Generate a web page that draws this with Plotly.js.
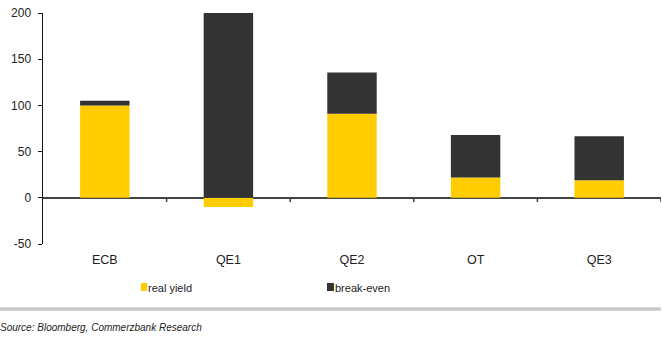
<!DOCTYPE html>
<html><head><meta charset="utf-8">
<script src="https://cdn.plot.ly/plotly-3.0.1.min.js"></script>
<style>html,body{margin:0;padding:0;background:#fff;}#chart{width:662px;height:339px;}</style>
</head><body><div id="chart"></div>
<script>
const categories = ['ECB', 'QE1', 'QE2', 'OT', 'QE3'];
const realYield = [100, -10, 91, 22, 19];
const breakEven = [5, 200, 44.5, 46, 47.5];
const seriesNames = ['real yield', 'break-even'];
const yTicks = [-50, 0, 50, 100, 150, 200];
const yTickText = ['-50', '0', '50', '100', '150', '200'];
const boundaryTicks = [0.5, 1.5, 2.5, 3.5, 4.5];

const font = {family: 'Liberation Sans, Arial, sans-serif', size: 12, color: '#222'};

const traces = [
  {type: 'bar', x: categories, y: realYield, name: seriesNames[0],
   marker: {color: '#FFCC00', line: {width: 0}}, width: 0.4},
  {type: 'bar', x: categories, y: breakEven, name: seriesNames[1],
   marker: {color: '#333333', line: {width: 0}}, width: 0.4}
];

const tickShapes = boundaryTicks.map(v => ({
  type: 'line', xref: 'x', yref: 'y', x0: v, x1: v, y0: 0, y1: -4.5,
  line: {color: '#444', width: 1.5}
}));

const layout = {
  width: 662, height: 339,
  margin: {l: 43, r: 1, t: 13, b: 95},
  barmode: 'relative',
  showlegend: false,
  paper_bgcolor: '#fff', plot_bgcolor: '#fff',
  font: font,
  xaxis: {type: 'category', showline: false, ticks: '', showgrid: false, zeroline: false,
          range: [-0.5, 4.5], tickfont: {size: 12.5, color: '#222'}, ticklabelstandoff: 6},
  yaxis: {range: [-50, 200], tickvals: yTicks, ticktext: yTickText, showgrid: false,
          zeroline: true, zerolinecolor: '#444', zerolinewidth: 1.5,
          showline: true, linecolor: '#111', linewidth: 1.5, ticks: 'outside', ticklen: 4, tickcolor: '#111',
          tickfont: {size: 12, color: '#222'}, ticklabelstandoff: 4},
  shapes: tickShapes.concat([
    {type: 'line', xref: 'paper', yref: 'paper', x0: -43/618, x1: 1, y0: -65/231, y1: -65/231,
     line: {color: '#c8c8c8', width: 3.5}},
    {type: 'rect', xref: 'paper', yref: 'paper', x0: (141-43)/618, x1: (147-43)/618,
     y0: (244-291)/231, y1: (244-283)/231, fillcolor: '#FFCC00', line: {width: 0}},
    {type: 'rect', xref: 'paper', yref: 'paper', x0: (327-43)/618, x1: (334-43)/618,
     y0: (244-291)/231, y1: (244-283)/231, fillcolor: '#333333', line: {width: 0}}
  ]),
  annotations: [
    {xref: 'paper', yref: 'paper', x: (146-43)/618, y: (244-287.5)/231, xanchor: 'left', yanchor: 'middle',
     text: seriesNames[0], showarrow: false, font: {size: 11, color: '#222'}},
    {xref: 'paper', yref: 'paper', x: (333-43)/618, y: (244-287.5)/231, xanchor: 'left', yanchor: 'middle',
     text: seriesNames[1], showarrow: false, font: {size: 11, color: '#222'}},
    {xref: 'paper', yref: 'paper', x: -45/618, y: (244-327)/231, xanchor: 'left', yanchor: 'middle',
     text: '<i>Source: Bloomberg, Commerzbank Research</i>', showarrow: false, font: {size: 10, color: '#222'}}
  ]
};

Plotly.newPlot('chart', traces, layout, {displayModeBar: false, staticPlot: true});
</script></body></html>
